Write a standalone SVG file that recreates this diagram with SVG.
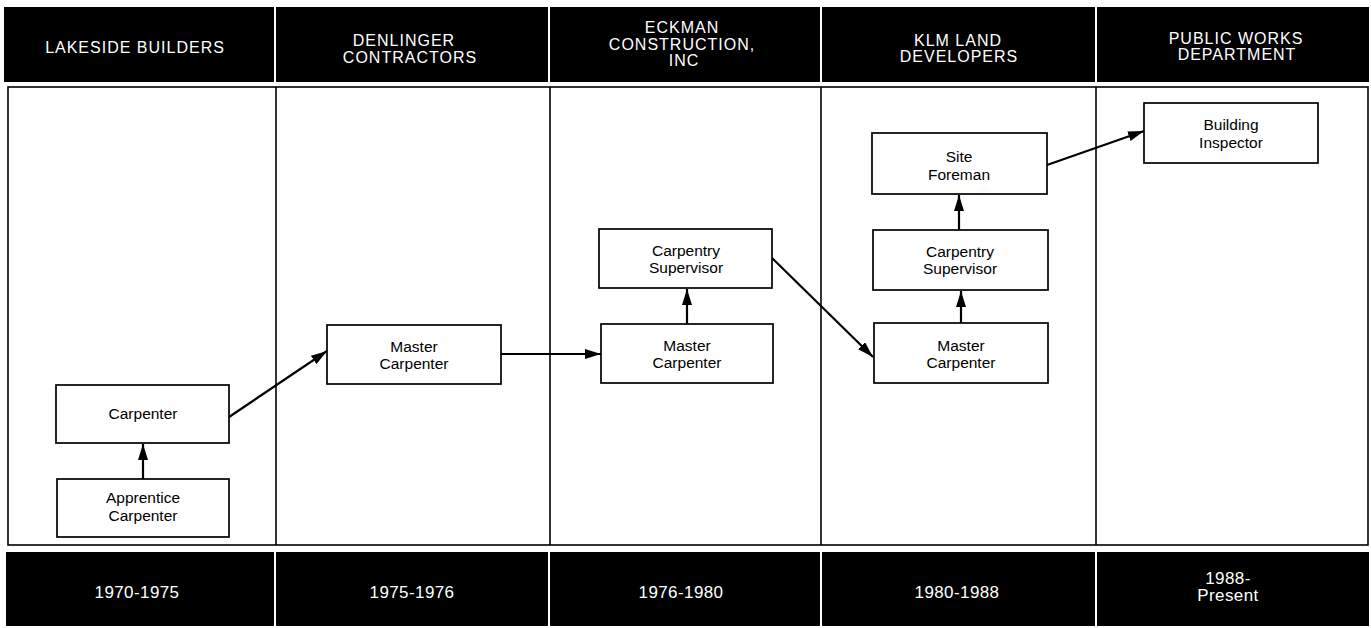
<svg xmlns="http://www.w3.org/2000/svg" width="1371" height="628" viewBox="0 0 1371 628">
<defs>
<style>
.band{fill:#000}
.ht{font-family:"Liberation Sans",Arial,sans-serif;font-size:16px;fill:#fff;text-anchor:middle;letter-spacing:1px}
.ft{font-family:"Liberation Sans",Arial,sans-serif;font-size:17px;fill:#fff;text-anchor:middle;letter-spacing:0.4px}
.col{fill:none;stroke:#000;stroke-width:1.6}
.box{fill:#fff;stroke:#000;stroke-width:1.7}
.nt{font-family:"Liberation Sans",Arial,sans-serif;font-size:15.5px;fill:#000;text-anchor:middle}
.edge{stroke:#000;stroke-width:2.2;fill:none;marker-end:url(#ah)}
</style>
<marker id="ah" viewBox="0 0 16 10" refX="16" refY="5" markerWidth="16" markerHeight="10" markerUnits="userSpaceOnUse" orient="auto">
<path d="M0,0 L16,5 L0,10 Z" fill="#000"/>
</marker>
</defs>
<rect width="1371" height="628" fill="#fff"/>
<g id="header">
<rect class="band" x="4" y="7" width="270" height="75"/>
<rect class="band" x="276" y="7" width="272" height="75"/>
<rect class="band" x="550" y="7" width="270" height="75"/>
<rect class="band" x="822" y="7" width="273" height="75"/>
<rect class="band" x="1097" y="7" width="272" height="75"/>
<text class="ht" x="135" y="53">LAKESIDE BUILDERS</text>
<text class="ht" x="404" y="46">DENLINGER</text>
<text class="ht" x="410" y="63">CONTRACTORS</text>
<text class="ht" x="682" y="33">ECKMAN</text>
<text class="ht" x="682" y="50">CONSTRUCTION,</text>
<text class="ht" x="684" y="66">INC</text>
<text class="ht" x="958" y="46">KLM LAND</text>
<text class="ht" x="959" y="62">DEVELOPERS</text>
<text class="ht" x="1236" y="44">PUBLIC WORKS</text>
<text class="ht" x="1237" y="60">DEPARTMENT</text>
</g>
<g id="columns">
<rect class="col" x="8" y="87" width="1360" height="458"/>
<line class="col" x1="276" y1="87" x2="276" y2="545"/>
<line class="col" x1="550" y1="87" x2="550" y2="545"/>
<line class="col" x1="821" y1="87" x2="821" y2="545"/>
<line class="col" x1="1096" y1="87" x2="1096" y2="545"/>
</g>
<g id="footer">
<rect class="band" x="6" y="552" width="268" height="74"/>
<rect class="band" x="276" y="552" width="272" height="74"/>
<rect class="band" x="550" y="552" width="270" height="74"/>
<rect class="band" x="822" y="552" width="273" height="74"/>
<rect class="band" x="1097" y="552" width="272" height="74"/>
<text class="ft" x="137" y="598">1970-1975</text>
<text class="ft" x="412" y="598">1975-1976</text>
<text class="ft" x="681" y="598">1976-1980</text>
<text class="ft" x="957" y="598">1980-1988</text>
<text class="ft" x="1228" y="584">1988-</text>
<text class="ft" x="1228" y="601">Present</text>
</g>
<g id="connectors">
<line class="edge" x1="143" y1="479" x2="143" y2="444"/>
<line class="edge" x1="229" y1="417" x2="327" y2="351"/>
<line class="edge" x1="501" y1="354" x2="601" y2="354"/>
<line class="edge" x1="687" y1="324" x2="687" y2="289"/>
<line class="edge" x1="772" y1="258" x2="873" y2="357"/>
<line class="edge" x1="961" y1="323" x2="961" y2="291"/>
<line class="edge" x1="959" y1="230" x2="959" y2="195"/>
<line class="edge" x1="1047" y1="165" x2="1144" y2="131"/>
</g>
<g id="n-apprentice">
<rect class="box" x="57" y="479" width="172" height="58"/>
<text class="nt" x="143" y="503">Apprentice</text>
<text class="nt" x="143" y="521">Carpenter</text>
</g>
<g id="n-carpenter">
<rect class="box" x="56" y="385" width="173" height="58"/>
<text class="nt" x="143" y="419">Carpenter</text>
</g>
<g id="n-master-d">
<rect class="box" x="327" y="325" width="174" height="59"/>
<text class="nt" x="414" y="352">Master</text>
<text class="nt" x="414" y="369">Carpenter</text>
</g>
<g id="n-master-e">
<rect class="box" x="601" y="324" width="172" height="59"/>
<text class="nt" x="687" y="351">Master</text>
<text class="nt" x="687" y="368">Carpenter</text>
</g>
<g id="n-supervisor-e">
<rect class="box" x="599" y="229" width="173" height="59"/>
<text class="nt" x="686" y="256">Carpentry</text>
<text class="nt" x="686" y="273">Supervisor</text>
</g>
<g id="n-master-k">
<rect class="box" x="874" y="323" width="174" height="60"/>
<text class="nt" x="961" y="351">Master</text>
<text class="nt" x="961" y="368">Carpenter</text>
</g>
<g id="n-supervisor-k">
<rect class="box" x="873" y="230" width="175" height="60"/>
<text class="nt" x="960" y="257">Carpentry</text>
<text class="nt" x="960" y="274">Supervisor</text>
</g>
<g id="n-foreman">
<rect class="box" x="872" y="133" width="175" height="61"/>
<text class="nt" x="959" y="162">Site</text>
<text class="nt" x="959" y="180">Foreman</text>
</g>
<g id="n-inspector">
<rect class="box" x="1144" y="103" width="174" height="60"/>
<text class="nt" x="1231" y="130">Building</text>
<text class="nt" x="1231" y="148">Inspector</text>
</g>
</svg>
